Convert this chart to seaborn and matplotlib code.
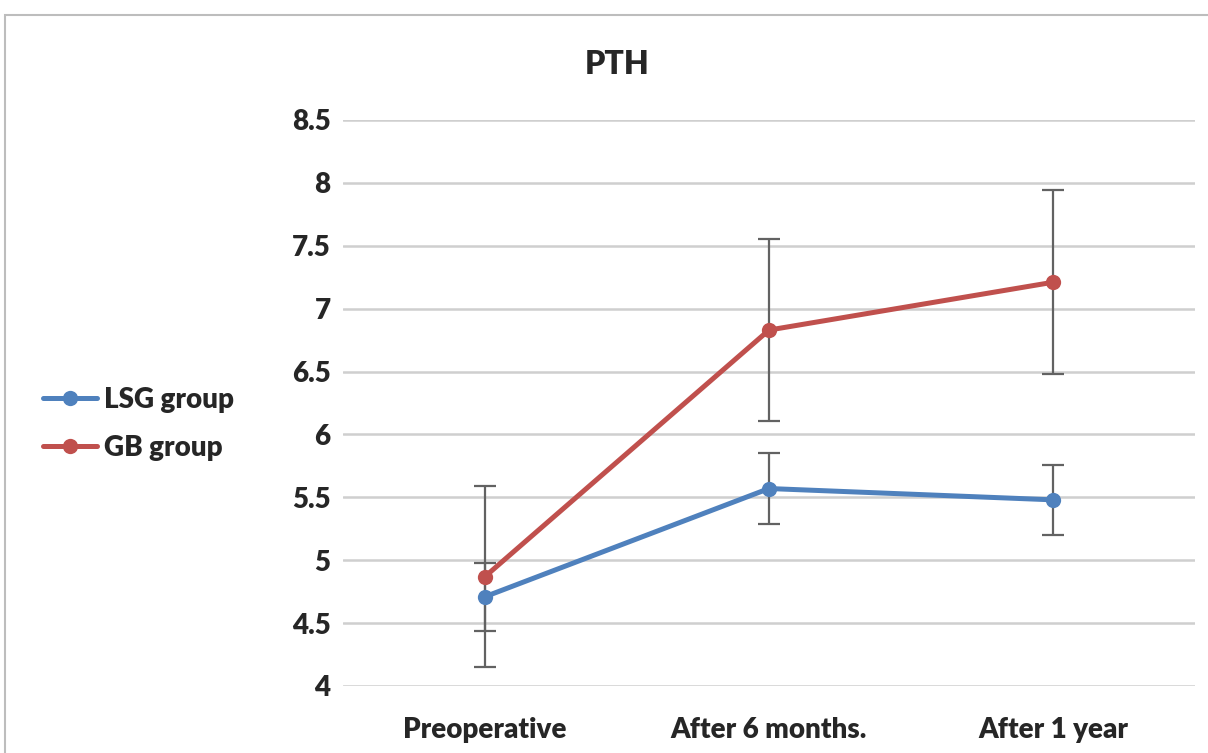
import matplotlib
matplotlib.use("Agg")
import matplotlib.pyplot as plt
from matplotlib.patches import Rectangle
import numpy as np
import pandas as pd
import seaborn as sns

# values
timepoints = ["Preoperative", "After 6 months.", "After 1 year"]
lsg_mean = [4.71, 5.57, 5.48]
lsg_sd = [0.27, 0.28, 0.28]
gb_mean = [4.87, 6.83, 7.21]
gb_sd = [0.72, 0.72, 0.73]
yticks = [4, 4.5, 5, 5.5, 6, 6.5, 7, 7.5, 8, 8.5]

sns.set_style("white")
plt.rcParams['font.family'] = ['Lato', 'DejaVu Sans']

blue = "#4F81BD"
red = "#C0504D"

# long table for seaborn
df = pd.DataFrame({
    "pos": list(range(3)) * 2,
    "value": lsg_mean + gb_mean,
    "group": ["LSG group"] * 3 + ["GB group"] * 3,
})

fig = plt.figure(figsize=(12.08, 7.53), dpi=100)
ax = fig.add_axes([343 / 1208, 1 - 686 / 753, (1195 - 343) / 1208, (686 - 120) / 753])

# error bars first so the points sit on top
for mean, sd in [(lsg_mean, lsg_sd), (gb_mean, gb_sd)]:
    ax.errorbar(range(3), mean, yerr=sd, fmt="none", ecolor="#626262",
                elinewidth=1.6, capsize=8, capthick=1.6, zorder=2)

sns.lineplot(data=df, x="pos", y="value", hue="group", palette=[blue, red],
             marker="o", markersize=11, markeredgewidth=0, linewidth=3.6,
             ax=ax, zorder=3)

ax.set_xlim(-0.5, 2.5)
ax.set_ylim(4, 8.5)
ax.set_yticks(yticks)
ax.set_yticklabels([f"{t:g}" for t in yticks], fontsize=20, fontweight="heavy")
ax.set_xticks(range(3))
ax.set_xticklabels(timepoints, fontsize=20, fontweight="heavy")
ax.tick_params(axis="y", length=0, pad=9)
ax.tick_params(axis="x", length=0, pad=22)
ax.set_xlabel("")
ax.set_ylabel("")
ax.grid(axis="y", color="#cfcfcf", linewidth=1.8)
ax.set_axisbelow(True)
for s in ax.spines.values():
    s.set_visible(False)

fig.text(617 / 1208, 1 - 64 / 753, "PTH", ha="center", va="center",
         fontsize=23, fontweight="heavy")

handles, labels = ax.get_legend_handles_labels()
ax.legend(handles, labels, loc="center left", bbox_to_anchor=(43 / 1208, 1 - 424 / 753),
          bbox_transform=fig.transFigure, frameon=False,
          prop={"weight": "heavy", "size": 20}, handlelength=1.95, handletextpad=0.25,
          labelspacing=0.8, borderpad=0, borderaxespad=0)

# outer chart border
fig.patches.append(Rectangle((5 / 1208, -0.1), 1.2, 1.1 - 15 / 753,
                             transform=fig.transFigure, fill=False,
                             edgecolor="#bdbdbd", linewidth=1.5))

fig.savefig("out.png", dpi=100)
